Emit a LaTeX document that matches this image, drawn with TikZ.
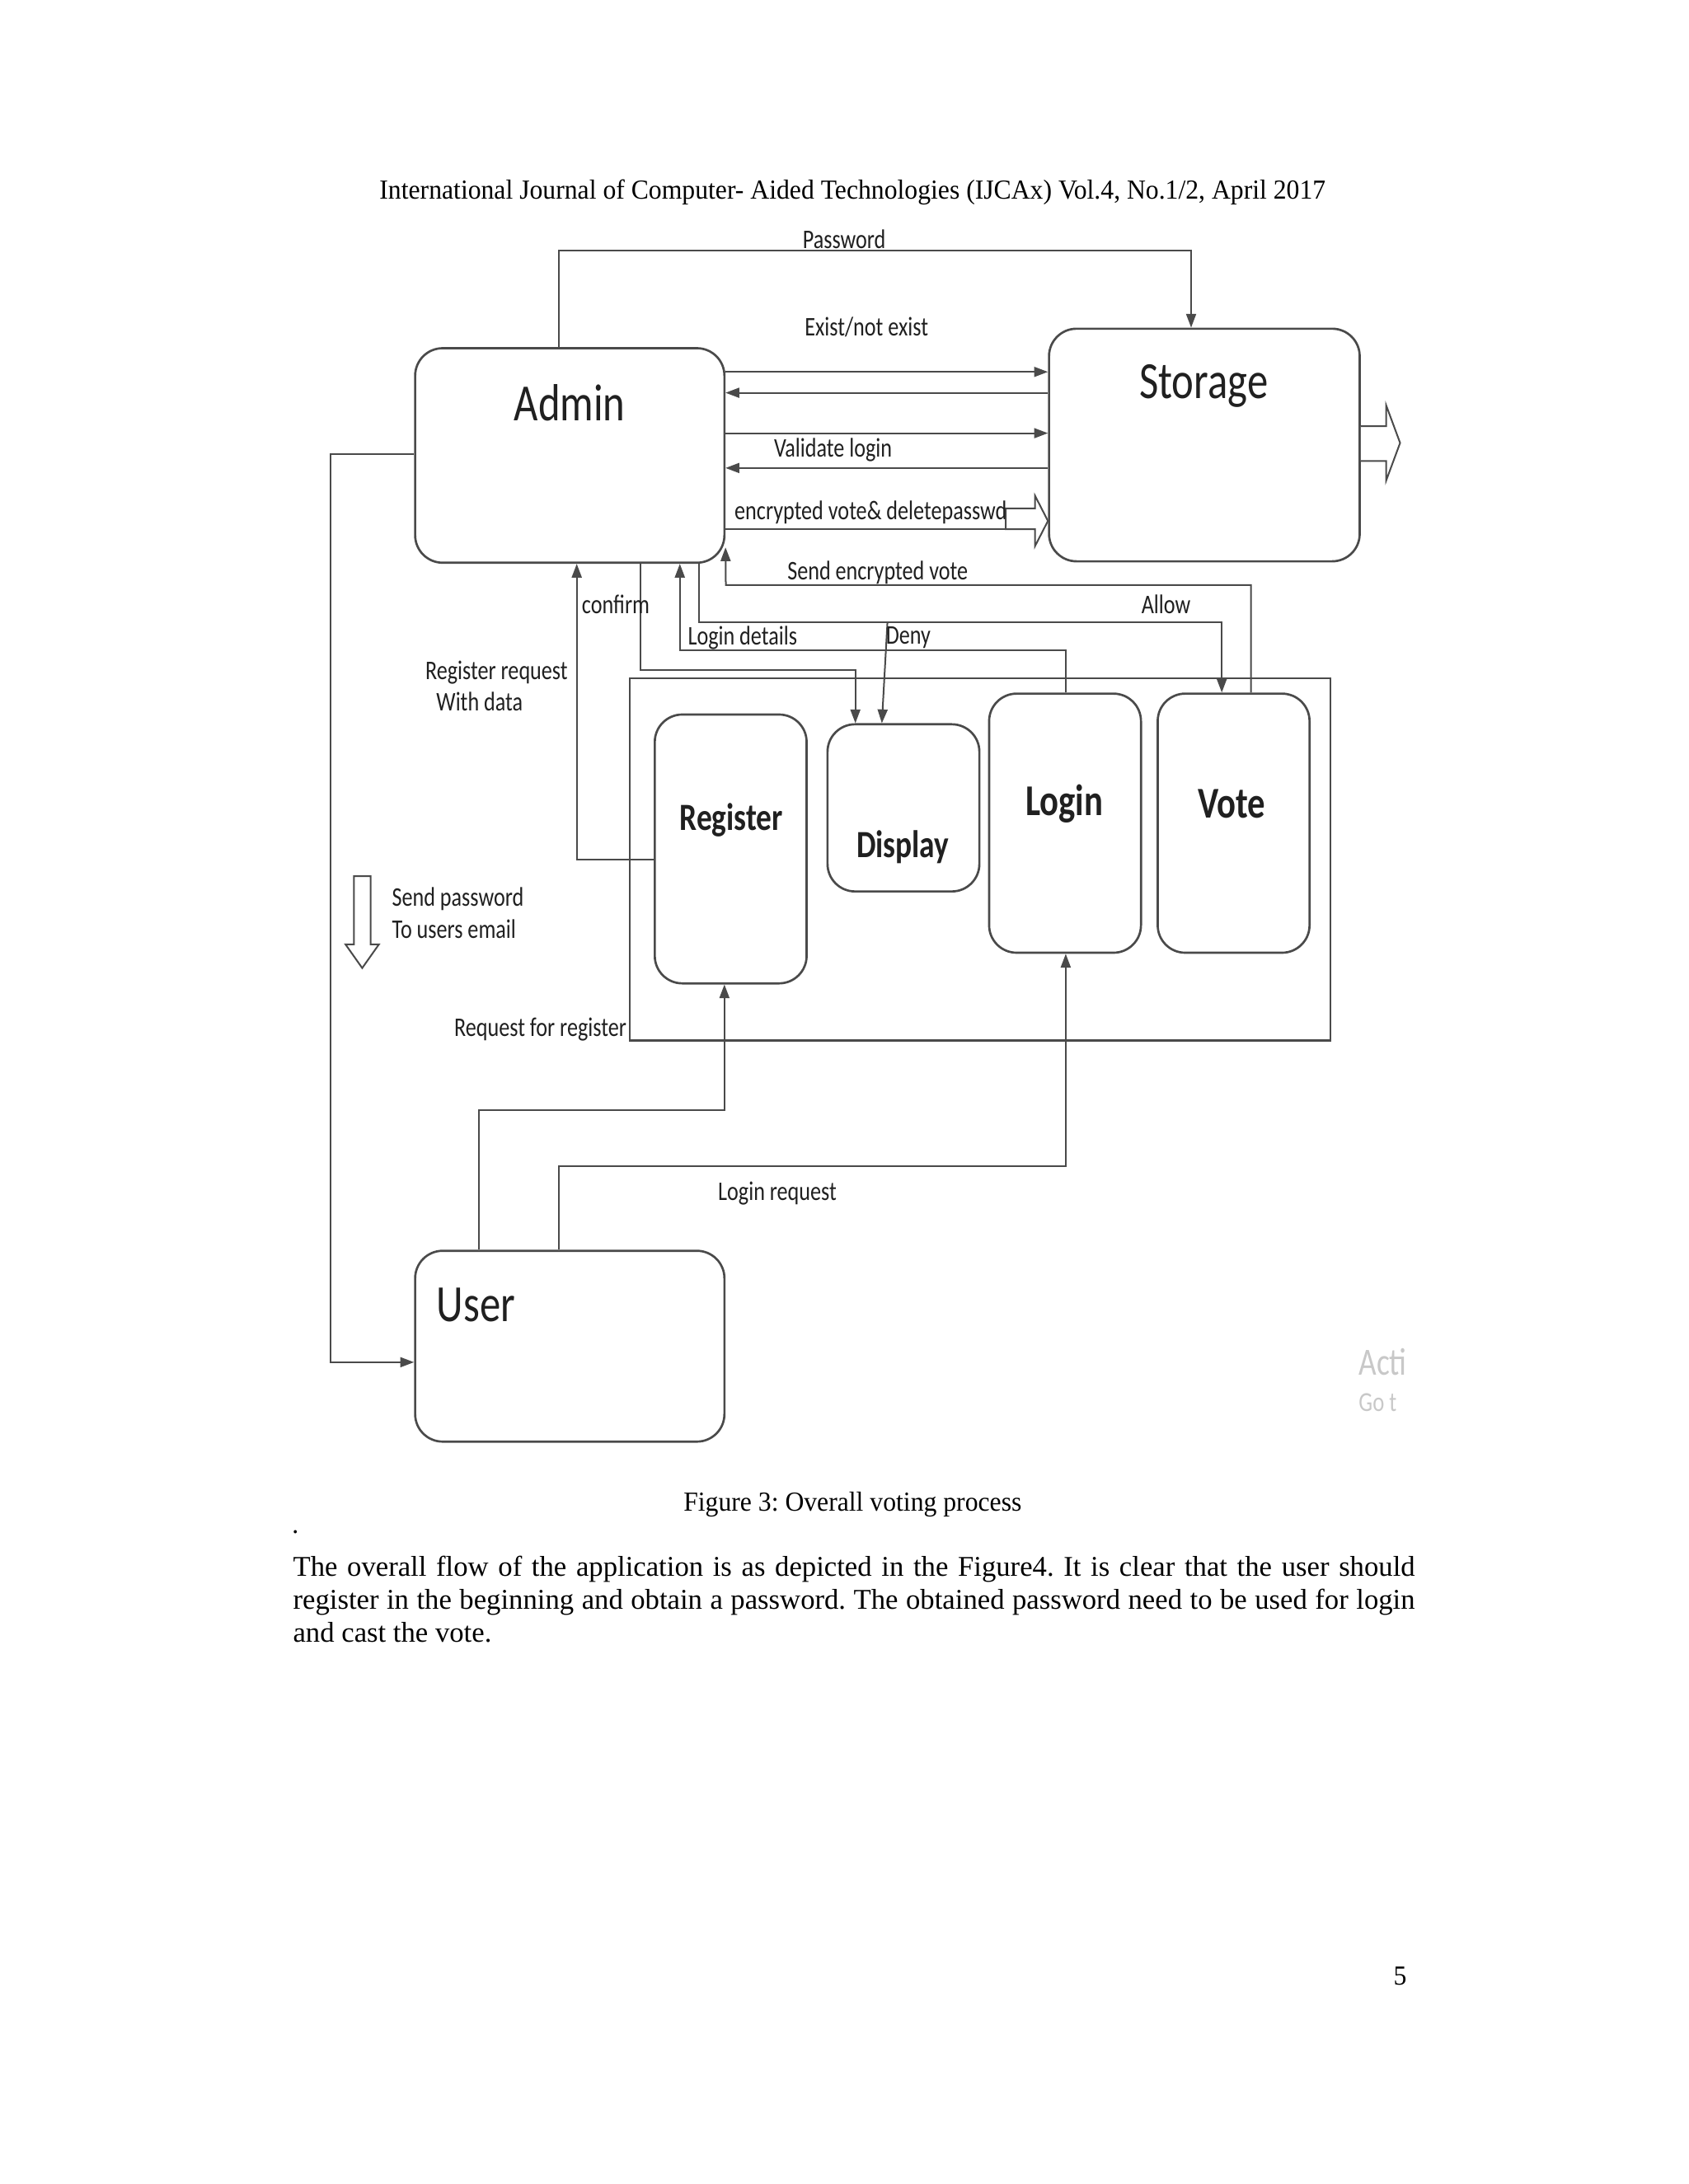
\documentclass[tikz,border=0pt]{standalone}
\usepackage{fontspec}
\setmainfont[FakeStretch=0.95]{Liberation Serif}
\newfontfamily\bodyfont{Liberation Serif}
\newfontfamily\diafont[FakeStretch=0.8]{Carlito}
\usetikzlibrary{arrows.meta,calc,positioning,fit}
\definecolor{linec}{HTML}{4A4A4A}
\definecolor{textc}{HTML}{202020}
\definecolor{ghost}{HTML}{C8C8C8}
\frenchspacing

\tikzset{
  blk/.style={draw=linec, line width=0.8pt, rounded corners=10pt, inner sep=0pt},
  frame/.style={draw=linec, line width=0.8pt, inner sep=0pt},
  flow/.style={draw=linec, line width=0.6pt},
  arr/.style={flow, -{Triangle[length=5pt,width=3.6pt]}},
  lbl/.style={font=\diafont\fontsize{9.8}{11.6}\selectfont, text=textc, inner sep=0pt},
  big/.style={font=\diafont\fontsize{19}{22}\selectfont, text=textc, inner sep=0pt},
  mid/.style={font=\diafont\bfseries\fontsize{14}{16}\selectfont, text=textc, inner sep=0pt},
  bold/.style={font=\diafont\bfseries\fontsize{16}{18}\selectfont, text=textc, inner sep=0pt},
  page/.style={font=\fontsize{10}{11.9}\selectfont, inner sep=0pt},
  body/.style={font=\bodyfont\fontsize{10.4}{11.9}\selectfont, inner sep=0pt}
}

\begin{document}
\begin{tikzpicture}[x=0.017814cm, y=-0.017814cm]
\useasboundingbox (0,0) rectangle (1212,1568);
\fill[white] (0,0) rectangle (1212,1568);

% page text
\node[page] (head) at (612,138) {International Journal of Computer- Aided Technologies (IJCAx) Vol.4, No.1/2, April 2017};
\node[page] (caption) at (612,1080) {Figure 3: Overall voting process};
\node[page] (dot) at (212,1100) {.};
\node[body, text width=14.34cm, align=justify, anchor=north west] (para) at (210,1117)
  {The overall flow of the application is as depicted in the Figure4. It is clear that the user should\linebreak
   register in the beginning and obtain a password. The obtained password need to be used for login\linebreak
   and cast the vote.};
\node[page] (pageno) at (1005,1419) {5};

% boxes
\node[blk, fit={(298,250) (520,404)}] (admin) {};
\node[blk, fit={(753,236) (976,403)}] (storage) {};
\node[blk, fit={(298,898) (520,1035)}] (user) {};
\node[frame, fit={(452,487) (955,747)}] (client) {};
\node[blk, fit={(470,513) (579,706)}] (register) {};
\node[blk, fit={(594,520) (703,640)}] (display) {};
\node[blk, fit={(710,498) (819,684)}] (login) {};
\node[blk, fit={(831,498) (940,684)}] (vote) {};

\node[big] (admin-t) at (409,289) {Admin};
\node[big] (storage-t) at (864,277) {Storage};
\node[big, anchor=west] (user-t) at (313,937) {User};
\node[mid] (register-t) at (525,589) {Register};
\node[mid] (display-t) at (648,608) {Display};
\node[bold] (login-t) at (764,577) {Login};
\node[bold] (vote-t) at (884,577) {Vote};

% admin <-> storage
\draw[arr] (admin.north -| 401,0) |- (855,180) -- (storage.north -| 855,0);
\draw[arr] (admin.east |- 0,267) -- (storage.west |- 0,267);
\draw[arr] (storage.west |- 0,282) -- (admin.east |- 0,282);
\draw[arr] (admin.east |- 0,311) -- (storage.west |- 0,311);
\draw[arr] (storage.west |- 0,336) -- (admin.east |- 0,336);
\draw[flow, fill=white] (722,365) -- (743,365) -- (743,356) -- (storage.west |- 0,374) -- (743,392) -- (743,380) -- (722,380) -- cycle;
\coordinate (enc) at (722,380);
\draw[flow] (admin.east |- enc) -- (enc);
\draw[flow, fill=white] (storage.east |- 0,306) -- (995,306) -- (995,291) -- (1005,318) -- (995,345) -- (995,331) -- (storage.east |- 0,331);

\node[lbl] (l-pass) at (606,172) {Password};
\node[lbl] (l-exist) at (622,235) {Exist/not exist};
\node[lbl] (l-valid) at (598,323) {Validate login};
\node[lbl] (l-enc) at (625,368) {encrypted vote\& deletepasswd};

% admin <-> client
\draw[arr] (vote.north -| 898,0) |- (521,420) -- (admin.east |- 0,393);
\draw[arr] (admin.south -| 502,0) |- (877,447) -- (vote.north -| 877,0);
\draw[arr] (637,447) -- (display.north -| 633,0);
\draw[arr] (admin.south -| 460,0) |- (614,481) -- (display.north -| 614,0);
\draw[arr] (login.north -| 765,0) |- (488,467) -- (admin.south -| 488,0);
\draw[arr] (register.west |- 0,617) -| (admin.south -| 414,0);

\node[lbl] (l-send) at (630,411) {Send encrypted vote};
\node[lbl] (l-allow) at (837,434) {Allow};
\node[lbl] (l-confirm) at (442,434) {confirm};
\node[lbl] (l-details) at (533,458) {Login details};
\node[lbl] (l-deny) at (652,458) {Deny};
\node[lbl, align=left, anchor=north west] (l-regreq) at (305,474) {Register request\\\hspace{4pt}With data};

% admin -> user
\draw[arr] (admin.west |- 0,326) -| (237,978) -- (user.west |- 0,978);
\draw[flow, fill=white] (254,629) -- (266,629) -- (266,678) -- (272,678) -- (260,695) -- (248,678) -- (254,678) -- cycle;
\node[lbl, align=left, anchor=north west] (l-mail) at (281,637) {Send password\\To users email};

% user -> client
\draw[arr] (user.north -| 344,0) |- (520,797) -- (register.south -| 520,0);
\draw[arr] (user.north -| 401,0) |- (765,837) -- (login.south -| 765,0);
\node[lbl, anchor=east] (l-reqreg) at (450,739) {Request for register};
\node[lbl] (l-loginreq) at (558,857) {Login request};

% faded screen text
\node[font=\diafont\fontsize{14}{16}\selectfont, text=ghost, anchor=west, inner sep=0pt] (ghost1) at (975,978) {Acti};
\node[font=\diafont\fontsize{10}{12}\selectfont, text=ghost, anchor=west, inner sep=0pt] (ghost2) at (975,1007) {Go t};
\end{tikzpicture}
\end{document}
